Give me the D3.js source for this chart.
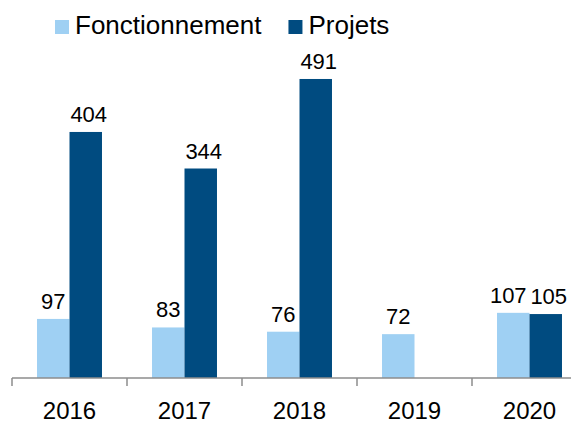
<!DOCTYPE html>
<html>
<head>
<meta charset="utf-8">
<script src="https://cdn.jsdelivr.net/npm/d3@7"></script>
<style>
  body { margin: 0; background: #fff; }
  svg { display: block; font-family: "Liberation Sans", Arial, sans-serif; }
</style>
</head>
<body>
<svg id="chart" width="571" height="423"></svg>
<script>
const years = ["2016", "2017", "2018", "2019", "2020"];
const seriesNames = ["Fonctionnement", "Projets"];
const fonctionnement = [97, 83, 76, 72, 107];
const projets = [404, 344, 491, null, 105];

const colors = {Fonctionnement: "#9fd0f3", Projets: "#004b80"};

const svg = d3.select('#chart');

const baseY = 378;

const xScale = d3.scaleBand()
    .domain(years)
    .range([12, 12 + 115 * years.length])
    .paddingInner(0)
    .paddingOuter(0);

const xSub = d3.scaleBand()
    .domain(seriesNames)
    .range([0, xScale.bandwidth()])
    .paddingInner(0)
    .paddingOuter(0.77);

const yScale = d3.scaleLinear()
    .domain([0, 500])
    .range([baseY, baseY - 304.5]);

const rows = [];
years.forEach((year, i) => {
    rows.push({year, series: "Fonctionnement", value: fonctionnement[i]});
    rows.push({year, series: "Projets", value: projets[i]});
});
const data = rows.filter(d => d.value != null);

const g = svg.append('g');

g.selectAll('.bar')
    .data(data)
    .join('rect')
        .classed('bar', true)
        .attr('x', d => xScale(d.year) + xSub(d.series))
        .attr('y', d => yScale(d.value))
        .attr('width', xSub.bandwidth())
        .attr('height', d => baseY - yScale(d.value))
        .style('fill', d => colors[d.series]);

g.selectAll('.valueLabel')
    .data(data)
    .join('text')
        .classed('valueLabel', true)
        .attr('x', d => xScale(d.year) + xSub(d.series) + xSub.bandwidth() / 2)
        .attr('dx', d => d.series === "Projets" ? 3 : (d.year === "2020" ? -5 : 0))
        .attr('y', d => yScale(d.value) - 10)
        .style('text-anchor', 'middle')
        .style('font-size', '22px')
        .style('fill', '#000')
        .text(d => d.value);

// axis line + ticks at category boundaries
g.append('line')
    .attr('x1', xScale.range()[0])
    .attr('x2', xScale.range()[1])
    .attr('y1', baseY)
    .attr('y2', baseY)
    .style('stroke', '#8c8c8c')
    .style('stroke-width', 1.5);

g.selectAll('.tickLine')
    .data(years)
    .join('line')
        .classed('tickLine', true)
        .attr('x1', d => xScale(d))
        .attr('x2', d => xScale(d))
        .attr('y1', baseY)
        .attr('y2', baseY + 8)
        .style('stroke', '#8c8c8c')
        .style('stroke-width', 1.5);

g.selectAll('.yearLabel')
    .data(years)
    .join('text')
        .classed('yearLabel', true)
        .attr('x', d => xScale(d) + xScale.bandwidth() / 2)
        .attr('y', baseY + 41)
        .style('text-anchor', 'middle')
        .style('font-size', '24px')
        .style('fill', '#000')
        .text(d => d);

// legend
const legend = svg.append('g');
let lx = 55;
seriesNames.forEach(name => {
    legend.append('rect')
        .attr('x', lx)
        .attr('y', 20)
        .attr('width', 14)
        .attr('height', 14)
        .style('fill', colors[name]);
    const t = legend.append('text')
        .attr('x', lx + 20)
        .attr('y', 33.5)
        .style('font-size', '26px')
        .style('fill', '#000')
        .text(name);
    lx += 20 + t.node().getComputedTextLength() + 27;
});
</script>
</body>
</html>
